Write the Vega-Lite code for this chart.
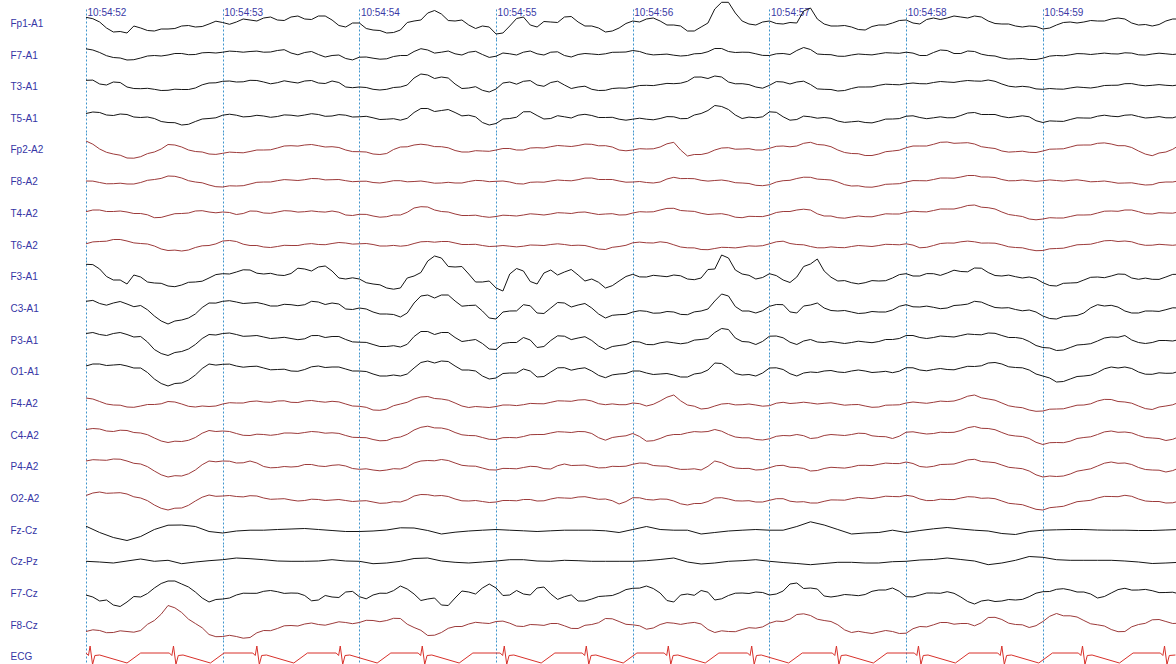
{
"$schema":"https://vega.github.io/schema/vega-lite/v6.json",
"padding":{"left":10,"top":0,"right":0,"bottom":0},
"background":"white",
"bounds":"flush",
"spacing":0,
"data":{"values":[
{"t":0,"a":5.7,"b":5.7,"c":5.7,"d":4,"e":8,"f":0,"g":1.3,"h":0.7,"i":11.7,"j":6.7,"k":6,"l":5,"m":5,"n":5,"o":5,"p":2.5,"q":3.3,"r":-0.3,"s":-2,"t2":-7},
{"t":0.1,"a":1,"b":2,"c":2,"d":5,"e":0,"f":-1.5,"g":3,"h":3,"i":7,"j":4.5,"k":5,"l":7,"m":1.5,"n":5.5,"o":6,"p":6,"q":-3,"r":-1,"s":-8,"t2":-6},
{"t":0.2,"a":-9,"b":-3,"c":4,"d":2,"e":-5,"f":-2.7,"g":1.5,"h":5,"i":-4,"j":5,"k":6,"l":6,"m":-2,"n":3,"o":7,"p":5,"q":-8,"r":-2,"s":-12,"t2":-8},
{"t":0.3,"a":-10,"b":-5.5,"c":-1,"d":3,"e":-9,"f":-3,"g":1,"h":3.5,"i":-8,"j":4,"k":5,"l":5,"m":-4,"n":4,"o":5,"p":4,"q":-11,"r":0,"s":-9,"t2":-7},
{"t":0.4,"a":-5,"b":-3.5,"c":-2.7,"d":0,"e":-7.7,"f":-1.5,"g":-0.5,"h":1,"i":-1,"j":2.5,"k":3,"l":3,"m":-3,"n":1.5,"o":2,"p":0,"q":-7,"r":2,"s":-4,"t2":-6},
{"t":0.5,"a":-8,"b":-1,"c":-3.3,"d":-1,"e":-3,"f":1.5,"g":-4.7,"h":-1.5,"i":-7,"j":-8,"k":-10,"l":-8,"m":-1.5,"n":-3.5,"o":-5,"p":-7,"q":0,"r":-0.3,"s":5,"t2":4},
{"t":0.6,"a":-6,"b":-0.5,"c":-4.3,"d":-5,"e":4.5,"f":5,"g":-2.5,"h":-6,"i":-10,"j":-16,"k":-16,"l":-15,"m":1.5,"n":-8,"o":-11,"p":-12,"q":4.3,"r":0.7,"s":12,"t2":19},
{"t":0.7,"a":-3,"b":1,"c":-3.5,"d":-7.5,"e":2,"f":3,"g":-0.5,"h":-6.5,"i":-9,"j":-12,"k":-12,"l":-12,"m":-1,"n":-7,"o":-10,"p":-10,"q":4.5,"r":-2.7,"s":9,"t2":12},
{"t":0.8,"a":-4,"b":0,"c":-2,"d":-4,"e":-2.5,"f":-1,"g":2,"h":-3,"i":-6,"j":-6,"k":-5,"l":-4,"m":-4,"n":-3,"o":-4,"p":-3,"q":3,"r":-1,"s":1,"t2":1},
{"t":0.9,"a":-1,"b":2,"c":3,"d":-1,"e":-5,"f":-4,"g":1,"h":-1,"i":-2,"j":5,"k":5,"l":7,"m":-3.5,"n":4,"o":5,"p":3,"q":-2,"r":0.3,"s":-9,"t2":-10},
{"t":1.0,"a":0.5,"b":2.3,"c":4.7,"d":2.3,"e":-4.3,"f":-6,"g":1,"h":3.5,"i":2.3,"j":6.7,"k":6,"l":6.7,"m":-1,"n":3.5,"o":5,"p":2,"q":-3.5,"r":1.3,"s":-6,"t2":-12},
{"t":1.1,"a":1,"b":3,"c":4,"d":2.3,"e":-3.5,"f":-5,"g":-1.5,"h":3,"i":4,"j":6,"k":5,"l":5,"m":0,"n":1,"o":3,"p":1.5,"q":-1.5,"r":3,"s":-2,"t2":-12},
{"t":1.2,"a":3,"b":3,"c":5.7,"d":1,"e":-2.5,"f":-3,"g":2,"h":-1,"i":6,"j":5,"k":3.5,"l":4.5,"m":1.5,"n":-1,"o":5,"p":2.3,"q":-0.7,"r":2.3,"s":-0.3,"t2":-13},
{"t":1.3,"a":5,"b":2.3,"c":4,"d":1.5,"e":-1,"f":-1,"g":0,"h":-2.5,"i":2,"j":4,"k":2.5,"l":3,"m":1,"n":0,"o":-0.5,"p":0,"q":-0.7,"r":1.3,"s":1.7,"t2":-6},
{"t":1.4,"a":3,"b":4,"c":3.3,"d":1,"e":1,"f":0.3,"g":1,"h":-2,"i":1,"j":2,"k":1.5,"l":1.5,"m":2,"n":0,"o":-1.5,"p":-1,"q":0,"r":0,"s":1.3,"t2":-4},
{"t":1.5,"a":6,"b":1.5,"c":4,"d":2.3,"e":3.3,"f":1,"g":2,"h":-1,"i":2.5,"j":3.3,"k":1,"l":0,"m":0.7,"n":1.5,"o":-1,"p":-2,"q":0.5,"r":-0.3,"s":0,"t2":-1},
{"t":1.6,"a":4,"b":2,"c":5,"d":2.5,"e":4,"f":1.3,"g":1.3,"h":0.3,"i":7,"j":3.3,"k":0.7,"l":1.5,"m":2,"n":2,"o":1.5,"p":-2.5,"q":1,"r":-0.3,"s":-2.5,"t2":0.5},
{"t":1.7,"a":7,"b":0,"c":3,"d":3,"e":3.3,"f":2.3,"g":1.3,"h":0,"i":9,"j":6,"k":4,"l":5,"m":1.5,"n":2.5,"o":0,"p":-1.5,"q":0,"r":0,"s":-7,"t2":0},
{"t":1.8,"a":3,"b":-1,"c":5,"d":1.5,"e":2.3,"f":1.3,"g":2,"h":1,"i":5,"j":5,"k":3,"l":4,"m":1.7,"n":1.7,"o":0.7,"p":-2,"q":-1,"r":1.3,"s":-4,"t2":1},
{"t":1.9,"a":-4,"b":-4,"c":-1,"d":2.3,"e":-1,"f":0.3,"g":-2,"h":1.5,"i":-3,"j":-1,"k":0,"l":2,"m":-1,"n":-1,"o":0,"p":-2.5,"q":-2,"r":0,"s":1,"t2":2},
{"t":2.0,"a":0,"b":-2.7,"c":-1,"d":0.7,"e":-2.7,"f":-0.3,"g":-1.3,"h":0.7,"i":-3,"j":0,"k":-2.7,"l":0,"m":-3.3,"n":-3,"o":-3.3,"p":-3,"q":-2,"r":-0.3,"s":-3.7,"t2":2},
{"t":2.1,"a":-7,"b":-3.7,"c":-3.3,"d":-0.3,"e":-5,"f":-1.5,"g":-3,"h":0,"i":-8,"j":-4,"k":-5,"l":-3,"m":-7,"n":-5,"o":-4,"p":-4,"q":-1.5,"r":-2.7,"s":-2,"t2":4},
{"t":2.2,"a":-10,"b":-4.3,"c":-3.3,"d":-1.7,"e":-4.5,"f":-1,"g":-3.7,"h":-1.5,"i":-12,"j":-6,"k":-7,"l":-5,"m":-6,"n":-6,"o":-4,"p":-5,"q":-0.5,"r":-2,"s":-0.3,"t2":4},
{"t":2.3,"a":-7,"b":-1,"c":-1,"d":-2.7,"e":2,"f":0.3,"g":-2,"h":-1.7,"i":-12,"j":-9,"k":-7.5,"l":-5,"m":-1,"n":-2.5,"o":-3,"p":-4,"q":1.7,"r":-0.3,"s":7,"t2":6},
{"t":2.4,"a":2,"b":3,"c":8,"d":5,"e":4,"f":-0.5,"g":5,"h":1,"i":0,"j":5,"k":3,"l":3,"m":4,"n":4.5,"o":3,"p":2,"q":1.5,"r":2.5,"s":-1,"t2":-3},
{"t":2.5,"a":10,"b":4.5,"c":11,"d":9,"e":4,"f":-1,"g":6,"h":3,"i":15,"j":13,"k":8,"l":10,"m":6.5,"n":8.3,"o":5.5,"p":3.3,"q":-1,"r":3,"s":-6,"t2":-11},
{"t":2.6,"a":9,"b":2.3,"c":9,"d":7,"e":2.3,"f":-2,"g":1.5,"h":3,"i":18,"j":13,"k":7,"l":10,"m":4,"n":6.5,"o":6.5,"p":2.5,"q":-4.5,"r":0,"s":-12,"t2":-8},
{"t":2.7,"a":2,"b":0.7,"c":2,"d":5,"e":-1.5,"f":-2,"g":-1,"h":1.5,"i":9,"j":7,"k":2,"l":5,"m":0,"n":2,"o":3,"p":-1,"q":-2.7,"r":-1.3,"s":-5,"t2":-2},
{"t":2.8,"a":-2,"b":2.3,"c":-2,"d":2.3,"e":-3,"f":-0.5,"g":-2.5,"h":0,"i":2,"j":2.5,"k":-1,"l":1,"m":-4.5,"n":-1,"o":0,"p":-3,"q":-1.5,"r":-2,"s":1,"t2":0.5},
{"t":2.9,"a":-3,"b":0,"c":-4.3,"d":-5,"e":-2,"f":0.3,"g":-3.5,"h":-1,"i":-6,"j":-3,"k":-4,"l":-5,"m":-4,"n":-3,"o":-2,"p":-3.5,"q":-0.7,"r":-1,"s":5,"t2":1.5},
{"t":3.0,"a":-11,"b":-1.7,"c":-3,"d":-6,"e":-1,"f":-0.3,"g":-3.5,"h":-1.7,"i":-12,"j":-11,"k":-10,"l":-7,"m":-3.5,"n":-5,"o":-4,"p":-4,"q":0,"r":0,"s":5,"t2":3},
{"t":3.1,"a":-3,"b":0.7,"c":4,"d":-1,"e":0.5,"f":-1,"g":-2.5,"h":-1.7,"i":2,"j":-3,"k":-3,"l":-2,"m":-2,"n":-3,"o":-2.5,"p":-2.5,"q":-0.7,"r":1.3,"s":-2,"t2":1.3},
{"t":3.2,"a":6,"b":2.3,"c":4.7,"d":5.7,"e":-1,"f":-3,"g":-2,"h":-1.7,"i":5,"j":3.3,"k":2,"l":2,"m":-1.7,"n":-2,"o":-1.5,"p":-1.5,"q":-1.3,"r":1.3,"s":-1,"t2":-2},
{"t":3.3,"a":-4,"b":0.7,"c":1,"d":2,"e":1.3,"f":-1,"g":-1.3,"h":-0.7,"i":-8,"j":-5,"k":-8,"l":-6,"m":-0.7,"n":0,"o":-0.7,"p":-3,"q":-2,"r":0,"s":5,"t2":-0.3},
{"t":3.4,"a":1,"b":2.3,"c":3.5,"d":-1,"e":2.3,"f":0,"g":-1,"h":0,"i":6,"j":0,"k":-1,"l":-1,"m":0.7,"n":1.5,"o":-3,"p":-1,"q":-1.3,"r":-0.3,"s":-1,"t2":1},
{"t":3.5,"a":6,"b":-1,"c":1,"d":0.7,"e":3,"f":0.5,"g":0,"h":0,"i":4,"j":5,"k":3.3,"l":3.3,"m":2,"n":2.5,"o":2,"p":0,"q":-0.7,"r":0.7,"s":-3.7,"t2":-1.3},
{"t":3.6,"a":1,"b":0,"c":-1,"d":2.3,"e":3.5,"f":1.3,"g":0.7,"h":-0.7,"i":1,"j":3,"k":1.5,"l":2.3,"m":3,"n":3,"o":0.7,"p":1,"q":-0.7,"r":0.3,"s":-8,"t2":-4},
{"t":3.7,"a":-3,"b":0.5,"c":-3.3,"d":2,"e":4.7,"f":3,"g":-0.3,"h":-2.7,"i":-3,"j":0,"k":-1,"l":0,"m":2,"n":1,"o":-0.5,"p":0,"q":-0.7,"r":-0.3,"s":-6,"t2":0},
{"t":3.8,"a":-9,"b":0.7,"c":-4.3,"d":0,"e":3.3,"f":1.5,"g":-1,"h":-5,"i":-12,"j":-10,"k":-10,"l":-6.7,"m":-1.7,"n":-5.7,"o":-1.7,"p":-1,"q":-1.3,"r":-0.3,"s":-3,"t2":6},
{"t":3.9,"a":-5,"b":2.3,"c":-2,"d":-1.7,"e":-1,"f":0,"g":-2,"h":-2,"i":-5,"j":-6.7,"k":-6,"l":-3,"m":-1.7,"n":-2,"o":-0.5,"p":-6,"q":-3,"r":-0.3,"s":0,"t2":3},
{"t":4.0,"a":2,"b":4,"c":-1,"d":-1.7,"e":-1,"f":-1,"g":0,"h":1.7,"i":1.7,"j":-4,"k":-2,"l":0,"m":0,"n":1,"o":1.7,"p":0.3,"q":0,"r":-0.3,"s":4.7,"t2":-0.3},
{"t":4.1,"a":4,"b":0.7,"c":0.7,"d":-1.7,"e":0,"f":-1.5,"g":1,"h":1.7,"i":-1,"j":-3.3,"k":-5,"l":-2,"m":-3,"n":-6.7,"o":2.7,"p":-1.5,"q":3,"r":0.3,"s":7,"t2":-4.7},
{"t":4.2,"a":2,"b":0,"c":1.5,"d":-1,"e":2,"f":-1,"g":3,"h":2.7,"i":0,"j":-5,"k":-3.3,"l":-3,"m":2,"n":-4,"o":0,"p":-1,"q":0,"r":1.5,"s":0,"t2":0},
{"t":4.3,"a":-2,"b":-0.7,"c":2.3,"d":0.7,"e":6.7,"f":3.7,"g":4.7,"h":-0.3,"i":1,"j":-4,"k":-3.3,"l":-4,"m":8,"n":0,"o":-2,"p":-3,"q":-0.7,"r":3,"s":-9,"t2":1.3},
{"t":4.4,"a":-8,"b":-1,"c":4.7,"d":-1,"e":-7,"f":2.5,"g":2,"h":-3.3,"i":-3,"j":-6.7,"k":-3.3,"l":-6,"m":-2,"n":1.7,"o":-3.3,"p":-7,"q":-0.7,"r":-1,"s":-1,"t2":1.3},
{"t":4.5,"a":-4,"b":1,"c":9,"d":4,"e":-5.5,"f":0.7,"g":-0.3,"h":-5,"i":-2,"j":-3,"k":0,"l":-2,"m":-6,"n":2.5,"o":-4,"p":-5.5,"q":-4.5,"r":-3,"s":2.5,"t2":0.5},
{"t":4.6,"a":14,"b":6,"c":10,"d":12,"e":-1,"f":0.5,"g":-1,"h":-4,"i":7,"j":7,"k":7,"l":8,"m":-3,"n":5,"o":5,"p":0,"q":-3,"r":-2,"s":-7,"t2":-8},
{"t":4.7,"a":20.7,"b":3,"c":4,"d":8,"e":1.3,"f":0,"g":-2,"h":-3,"i":18,"j":12,"k":10,"l":3,"m":-0.5,"n":0,"o":0,"p":-1,"q":-1.5,"r":-0.3,"s":-2.5,"t2":-7},
{"t":4.8,"a":2,"b":2.3,"c":2.3,"d":-1,"e":0,"f":-2,"g":-4.7,"h":-2.5,"i":2,"j":-3,"k":-2,"l":-4,"m":-1.7,"n":-3.3,"o":-2.5,"p":-3,"q":-0.7,"r":0.3,"s":0,"t2":-5},
{"t":4.9,"a":-2,"b":0.7,"c":-1,"d":-0.3,"e":-1,"f":-4.3,"g":-3.5,"h":-1.7,"i":-3,"j":-5,"k":-5,"l":-5,"m":-2,"n":-5,"o":-4,"p":-4,"q":0,"r":1.3,"s":1,"t2":-3.7},
{"t":5.0,"a":2,"b":-1,"c":0.7,"d":5.7,"e":0.7,"f":-3.7,"g":-2,"h":0.7,"i":2.3,"j":1.7,"k":3.3,"l":3,"m":-2.7,"n":-4.3,"o":-1.7,"p":-2.3,"q":-0.7,"r":-0.3,"s":-2,"t2":1.3},
{"t":5.1,"a":-1,"b":1,"c":4,"d":0.7,"e":3,"f":0.3,"g":1.5,"h":3.3,"i":-4,"j":3.3,"k":1.7,"l":1.5,"m":0.7,"n":-1,"o":0.7,"p":-0.7,"q":-0.7,"r":-1.5,"s":2,"t2":3},
{"t":5.2,"a":0,"b":4,"c":4,"d":-2,"e":3,"f":2.5,"g":3,"h":0,"i":-1,"j":-5,"k":-5,"l":-5,"m":0,"n":0,"o":-1.5,"p":-4,"q":3,"r":-2.5,"s":10,"t2":10},
{"t":5.3,"a":15,"b":5,"c":1.5,"d":0.7,"e":6.7,"f":3.7,"g":3,"h":-2,"i":12,"j":3,"k":0,"l":-1,"m":0,"n":-4,"o":-5,"p":-5,"q":7.7,"r":-3.7,"s":5,"t2":9},
{"t":5.4,"a":-1,"b":0,"c":-3.3,"d":0,"e":4,"f":1.5,"g":-3,"h":-3.3,"i":5,"j":0,"k":-3,"l":0,"m":-0.3,"n":-1,"o":-2.5,"p":-3.3,"q":4.5,"r":-2.5,"s":-3,"t2":4},
{"t":5.5,"a":-3,"b":-1.7,"c":-5,"d":-3.5,"e":-1,"f":-1,"g":-4.7,"h":-3,"i":-5,"j":-3,"k":-3,"l":-1,"m":-1,"n":-0.5,"o":-1.7,"p":-2,"q":0,"r":-1.3,"s":-3,"t2":-0.3},
{"t":5.6,"a":-4,"b":-0.5,"c":-2.5,"d":-4.3,"e":-4.5,"f":-5,"g":-4,"h":-2,"i":-6.7,"j":-4,"k":-3,"l":0,"m":-1.7,"n":0,"o":-1,"p":-0.7,"q":-4.5,"r":-1.3,"s":-2,"t2":-8},
{"t":5.7,"a":-7,"b":0,"c":-1,"d":-5,"e":-6.5,"f":-6,"g":-3.7,"h":-1.5,"i":-6.7,"j":-5,"k":-2.5,"l":0,"m":-3,"n":1,"o":0.7,"p":0,"q":-3.5,"r":-2,"s":-1.5,"t2":-8},
{"t":5.8,"a":-2,"b":0.7,"c":0.7,"d":-3.7,"e":-5,"f":-5,"g":-2.3,"h":-1,"i":-5,"j":-4,"k":-2,"l":-1,"m":-4,"n":-2,"o":1.7,"p":0.5,"q":-3,"r":-2,"s":3,"t2":-7.5},
{"t":5.9,"a":0,"b":1.5,"c":1.5,"d":-1.5,"e":-2,"f":-3,"g":-1,"h":0,"i":-2,"j":-2,"k":0,"l":-1.7,"m":-2,"n":-4,"o":2.5,"p":1.5,"q":-0.7,"r":-0.7,"s":5,"t2":-7},
{"t":6.0,"a":3,"b":2.3,"c":2.3,"d":1.3,"e":1.3,"f":-1,"g":0.7,"h":0.7,"i":2.3,"j":3.3,"k":4,"l":3.3,"m":0,"n":2.3,"o":4,"p":2.7,"q":-3,"r":-0.3,"s":-3.7,"t2":-8.7},
{"t":6.1,"a":-1,"b":-1,"c":2.3,"d":0,"e":3,"f":0.3,"g":1.3,"h":-3.3,"i":0,"j":1,"k":2,"l":1,"m":0.3,"n":1.5,"o":-0.5,"p":-1,"q":-1,"r":1,"s":-2,"t2":-2},
{"t":6.2,"a":5,"b":2,"c":3.5,"d":-0.3,"e":4.7,"f":1.5,"g":2.5,"h":-1,"i":2.3,"j":0.7,"k":2,"l":1.5,"m":0.7,"n":1,"o":-0.3,"p":-2.5,"q":0.7,"r":1.5,"s":0,"t2":-0.3},
{"t":6.3,"a":5,"b":4,"c":4,"d":-0.3,"e":7,"f":3,"g":4,"h":1.5,"i":3,"j":0,"k":3,"l":1.5,"m":1.5,"n":2,"o":1.7,"p":-1.5,"q":2,"r":3,"s":1.3,"t2":2},
{"t":6.4,"a":6,"b":1,"c":4.7,"d":2,"e":6,"f":4,"g":5.5,"h":2.7,"i":4.5,"j":3,"k":4,"l":3,"m":4,"n":4,"o":4,"p":0,"q":0.5,"r":1.5,"s":-4,"t2":1},
{"t":6.5,"a":7,"b":3,"c":5,"d":5,"e":5,"f":5.5,"g":8,"h":2.7,"i":8,"j":6.7,"k":5,"l":4.5,"m":8,"n":8,"o":6.7,"p":1,"q":-0.7,"r":0,"s":-11,"t2":-1.3},
{"t":6.6,"a":2,"b":-1,"c":6,"d":3,"e":1.3,"f":4,"g":5.3,"h":1.5,"i":3.5,"j":3,"k":6.5,"l":8,"m":4,"n":6,"o":4,"p":0,"q":-1.5,"r":-3.7,"s":-7,"t2":7},
{"t":6.7,"a":-1,"b":-3.5,"c":2,"d":1,"e":-2,"f":1.5,"g":1,"h":-0.3,"i":0,"j":0,"k":4,"l":7,"m":0,"n":2,"o":1,"p":-3,"q":-4,"r":-2,"s":-8,"t2":5},
{"t":6.8,"a":-3,"b":-4.3,"c":-1,"d":0.7,"e":-2.7,"f":0.3,"g":-2.5,"h":-3,"i":-0.7,"j":-1.5,"k":2,"l":3.5,"m":-4,"n":-1.5,"o":-2,"p":-6,"q":-5,"r":0.7,"s":-7,"t2":0},
{"t":6.9,"a":-3,"b":-5,"c":-1,"d":0.7,"e":-3.3,"f":0.3,"g":-6,"h":-5,"i":-1,"j":-2,"k":-2,"l":1,"m":-7,"n":-4,"o":-5,"p":-9,"q":-2,"r":4.5,"s":-3.7,"t2":-3},
{"t":7.0,"a":-6,"b":-3.7,"c":-3.3,"d":-5,"e":-2,"f":0.3,"g":-6,"h":-6,"i":-6.7,"j":-8,"k":-8,"l":-5,"m":-8,"n":-10,"o":-11,"p":-12,"q":-0.7,"r":3.7,"s":1.3,"t2":3},
{"t":7.1,"a":-2,"b":-1,"c":-3,"d":-3.7,"e":0,"f":0.5,"g":-5,"h":-4,"i":-10,"j":-11,"k":-11,"l":-11,"m":-6,"n":-8,"o":-10.5,"p":-9,"q":-0.3,"r":1.3,"s":3.7,"t2":11},
{"t":7.2,"a":1,"b":-0.3,"c":-2,"d":-2,"e":2,"f":0.7,"g":-3.5,"h":-2,"i":-7,"j":-8,"k":-8,"l":-8,"m":-4,"n":-6.7,"o":-8,"p":-6,"q":0,"r":0.7,"s":3,"t2":8.7},
{"t":7.3,"a":1,"b":0.7,"c":-1.5,"d":-0.5,"e":4,"f":0.3,"g":-2,"h":0,"i":-4,"j":-5,"k":-5,"l":-5,"m":-2,"n":-3,"o":-4,"p":-3,"q":0,"r":0.7,"s":1,"t2":4},
{"t":7.4,"a":2,"b":0.7,"c":-1,"d":1.3,"e":5.7,"f":-0.5,"g":0,"h":2,"i":-1,"j":3.3,"k":-1.5,"l":-1.5,"m":2,"n":0,"o":0,"p":0,"q":-0.5,"r":0.7,"s":-5,"t2":-0.3},
{"t":7.5,"a":4,"b":0.7,"c":0.7,"d":1.3,"e":5,"f":-1,"g":2,"h":4,"i":0,"j":2.7,"k":2.5,"l":4,"m":3.5,"n":3.5,"o":4,"p":1.5,"q":-0.7,"r":0.7,"s":0,"t2":-5},
{"t":7.6,"a":4,"b":1.7,"c":2.3,"d":2.3,"e":3.3,"f":-2,"g":3,"h":3.5,"i":1.7,"j":-3,"k":4,"l":4,"m":1,"n":2.5,"o":3,"p":2.7,"q":-0.7,"r":0,"s":4.7,"t2":-7},
{"t":7.7,"a":-2,"b":-0.3,"c":1,"d":1,"e":-2,"f":-3,"g":1.3,"h":0.5,"i":-3.3,"j":-5,"k":-3,"l":-1,"m":-3,"n":-1,"o":-1.5,"p":-1,"q":-1,"r":-1,"s":3,"t2":0},
{"t":7.8,"a":-3,"b":0.5,"c":0.7,"d":0,"e":-6.7,"f":-3.7,"g":-1,"h":-0.7,"i":-3.3,"j":-3,"k":-3,"l":-3.3,"m":-6.5,"n":-3.5,"o":-4,"p":-3.5,"q":-1,"r":-2.5,"s":2.3,"t2":4.7},
{"t":7.9,"a":2,"b":0.7,"c":0.7,"d":-0.3,"e":-3,"f":-1,"g":0,"h":-0.3,"i":-1,"j":-1.7,"k":-1,"l":-2.3,"m":-3,"n":-6,"o":-6,"p":-5,"q":-0.5,"r":-2,"s":0.5,"t2":3},
{"t":8.0,"a":4,"b":0.7,"c":1.3,"d":1.7,"e":4,"f":0.3,"g":1.3,"h":0,"i":1.7,"j":0,"k":0,"l":0,"m":1,"n":-2,"o":-1.7,"p":-3,"q":0,"r":-1.3,"s":-1,"t2":1.3},
{"t":0.05,"a":4.3,"b":4.5,"c":5.9,"d":5.5,"i":11.4,"j":7.6,"k":7,"l":7,"s":-4,"e":4.8,"f":-0.1,"g":3,"h":2.6,"m":4,"n":6,"o":6.3,"p":5,"t2":-5.3},
{"t":0.15,"a":-5,"b":-1.2,"c":1,"d":2.5,"i":-0.5,"j":2.8,"k":4,"l":5.5,"s":-7,"e":-3.3,"f":-2.8,"g":1.5,"h":3.3,"m":-1,"n":3.5,"o":5.7,"p":4.7,"t2":-8.2},
{"t":0.25,"a":-8.5,"b":-3.5,"c":3.5,"d":3.5,"i":-4,"j":6.5,"k":7,"l":6.5,"s":-13.5,"e":-6.2,"f":-2.2,"g":2,"h":5,"m":-2.2,"n":4.3,"o":6.8,"p":5.3,"t2":-6.3},
{"t":0.35,"a":-3,"b":-5.2,"c":-2.5,"d":0.5,"i":1,"j":1.3,"k":2.5,"l":3,"s":-3.5,"e":-9.2,"f":-3,"g":-0.5,"h":1.6,"m":-4.3,"n":2,"o":2.7,"p":1.2,"t2":-7.7},
{"t":0.45,"a":-7.5,"b":-1.5,"c":-2.3,"d":0.5,"i":-6,"j":-1.8,"k":-2.5,"l":-1.5,"s":-0.5,"e":-4.6,"f":0.7,"g":-1.8,"h":0.5,"m":-1.5,"n":-0.2,"o":-0.7,"p":-2.7,"t2":0.2},
{"t":0.55,"a":-6,"b":-1.5,"c":-4.5,"d":-4,"i":-7.3,"j":-13,"k":-14,"l":-12.5,"s":9.5,"e":0,"f":2.6,"g":-4.4,"h":-4.5,"m":-0.8,"n":-6.5,"o":-8.8,"p":-10.3,"t2":10.3},
{"t":0.65,"a":-5.5,"b":1,"c":-3.2,"d":-5.2,"i":-10.7,"j":-13,"k":-13,"l":-12.5,"s":12,"e":4,"f":4.7,"g":-0.7,"h":-5.6,"m":1,"n":-6.7,"o":-9.7,"p":-10.2,"t2":16.7},
{"t":0.75,"a":-2.5,"b":-0.2,"c":-3.5,"d":-6.8,"i":-6.3,"j":-10,"k":-9.5,"l":-9,"s":6,"e":-1,"f":0.3,"g":0,"h":-5.5,"m":-3.3,"n":-5.8,"o":-7.8,"p":-7.3,"t2":5.3},
{"t":0.85,"a":-3.5,"b":1.7,"c":1.2,"d":-1.5,"i":-5.2,"j":0.5,"k":1,"l":2.5,"s":-5,"e":-3,"f":-1.8,"g":2.3,"h":-1.3,"m":-3,"n":1.3,"o":1.3,"p":0.8,"t2":-3.3},
{"t":0.95,"a":1.8,"b":1.5,"c":3.2,"d":-0.3,"i":1.4,"j":4.9,"k":4.5,"l":5.9,"s":-6.5,"e":-5.4,"f":-5.7,"g":0.2,"h":0.6,"m":-3,"n":3,"o":4.2,"p":1.7,"t2":-12.2},
{"t":1.05,"a":-1.3,"b":3.4,"c":5,"d":3.3,"i":2,"j":7.3,"k":6.5,"l":6.9,"s":-5,"e":-3.1,"f":-4.8,"g":0.5,"h":4,"m":0.3,"n":3,"o":4.8,"p":2.5,"t2":-10.8},
{"t":1.15,"a":4,"b":2.3,"c":4.2,"d":0.6,"i":6.2,"j":4.5,"k":3.2,"l":3.8,"s":-0.2,"e":-3.8,"f":-4.7,"g":-0.5,"h":0.3,"m":0,"n":-0.8,"o":3.2,"p":1.1,"t2":-13.7},
{"t":1.25,"a":2,"b":3.4,"c":5.5,"d":2.2,"i":2.8,"j":5.5,"k":4,"l":4.8,"s":-0.3,"e":-1,"f":-1.3,"g":1.8,"h":-1,"m":2,"n":0.3,"o":3,"p":2,"t2":-8.3},
{"t":1.35,"a":6,"b":2.5,"c":2.2,"d":0.2,"i":2.7,"j":2,"k":1,"l":1.2,"s":2.5,"e":-0.8,"f":-1,"g":-0.3,"h":-3,"m":0.7,"n":-0.8,"o":-1.8,"p":-1.3,"t2":-6.2},
{"t":1.45,"a":2.5,"b":4.8,"c":5.2,"d":2.6,"i":0.5,"j":3.7,"k":2.2,"l":1.8,"s":-0.4,"e":3,"f":1.4,"g":2.3,"h":-0.8,"m":2.2,"n":1.5,"o":-0.5,"p":-0.7,"t2":-1.3},
{"t":1.55,"a":7,"b":-0.3,"c":3,"d":1.4,"i":7.8,"j":2.3,"k":-0.2,"l":-0.3,"s":-0.2,"e":2.9,"f":0.5,"g":0.9,"h":-1,"m":0.5,"n":1,"o":-0.5,"p":-3,"t2":-1.5},
{"t":1.65,"a":3.5,"b":3,"c":5.5,"d":3.8,"i":5,"j":6.7,"k":3.9,"l":4.2,"s":-7.8,"e":4.5,"f":2.5,"g":2.1,"h":0.9,"m":2.5,"n":3,"o":1.5,"p":-1.2,"t2":1.5},
{"t":1.75,"a":7,"b":-2.5,"c":2.5,"d":1.2,"i":10,"j":3.5,"k":2,"l":3.5,"s":-2.5,"e":2,"f":1.1,"g":0.9,"h":-0.2,"m":0.8,"n":1.3,"o":-0.5,"p":-2.5,"t2":-0.7},
{"t":1.85,"a":-2.5,"b":-0.5,"c":3.5,"d":2.9,"i":-2,"j":4,"k":3,"l":4,"s":-4.5,"e":1.5,"f":1.5,"g":0.8,"h":2,"m":1.1,"n":1.1,"o":1.2,"p":-1.5,"t2":2.7},
{"t":1.95,"a":0,"b":-5.4,"c":-1.7,"d":0.5,"i":-1.8,"j":-1.5,"k":-2.4,"l":0,"s":1.6,"e":-2.6,"f":-0.7,"g":-2.5,"h":0.4,"m":-3,"n":-2.8,"o":-2.5,"p":-3.5,"t2":0.8},
{"t":2.05,"a":-5.5,"b":-2.5,"c":-1.5,"d":1.2,"i":-6.7,"j":-1,"k":-2.9,"l":-0.5,"s":-5.8,"e":-3,"f":-0.2,"g":-1.4,"h":1,"m":-4.3,"n":-3.2,"o":-2.8,"p":-2.7,"t2":4.2},
{"t":2.15,"a":-7.5,"b":-4.7,"c":-4,"d":-2,"i":-8.8,"j":-6,"k":-7,"l":-5,"s":-0.2,"e":-5.5,"f":-2,"g":-4.2,"h":-1.5,"m":-7.3,"n":-6.3,"o":-4.8,"p":-5.3,"t2":2.8},
{"t":2.25,"a":-9.5,"b":-2,"c":-1.5,"d":-1.2,"i":-13.2,"j":-6.5,"k":-6.2,"l":-4,"s":2.4,"e":-0.5,"f":0.3,"g":-2,"h":-0.9,"m":-2.7,"n":-3.5,"o":-2.7,"p":-3.7,"t2":6.2},
{"t":2.35,"a":0.5,"b":-1,"c":1,"d":-0.8,"i":-2,"j":-5,"k":-4.8,"l":-3,"s":4,"e":2.2,"f":-0.8,"g":0.7,"h":-1,"m":0.7,"n":0.2,"o":-0.8,"p":-1.8,"t2":0.3},
{"t":2.45,"a":3,"b":5.8,"c":12,"d":9,"i":3.5,"j":12,"k":8,"l":8.5,"s":-7.5,"e":4.8,"f":0,"g":6.3,"h":2.7,"m":6,"n":7.2,"o":5,"p":3.5,"t2":-5.8},
{"t":2.55,"a":12.5,"b":1.4,"c":7.5,"d":6,"i":20,"j":10,"k":5,"l":8,"s":-5,"e":2.4,"f":-2.2,"g":3,"h":2.3,"m":4.5,"n":6.6,"o":5.2,"p":2.1,"t2":-10.7},
{"t":2.65,"a":2.5,"b":3.5,"c":8,"d":8,"i":9.5,"j":13,"k":7,"l":9.5,"s":-12.5,"e":1.2,"f":-1.3,"g":1,"h":3,"m":2.8,"n":5,"o":5.5,"p":1.5,"t2":-3.8},
{"t":2.75,"a":3,"b":-0.5,"c":-2.5,"d":1.6,"i":9.5,"j":1.8,"k":-2,"l":1,"s":2,"e":-3,"f":-2,"g":-2.5,"h":0,"m":-3,"n":-0.3,"o":0.7,"p":-2.8,"t2":-2},
{"t":2.85,"a":-5.5,"b":3.2,"c":-0.7,"d":0.6,"i":-6,"j":2.8,"k":0,"l":0,"s":-1,"e":-1.7,"f":0.6,"g":-2.2,"h":0.2,"m":-3.5,"n":-1.2,"o":-0.2,"p":-2.5,"t2":2.2},
{"t":2.95,"a":-4,"b":-2.9,"c":-6,"d":-7.5,"i":-5,"j":-10,"k":-9.5,"l":-8,"s":9,"e":-2.3,"f":-0.7,"g":-4.3,"h":-2,"m":-4.5,"n":-4.8,"o":-3.8,"p":-4.5,"t2":1},
{"t":3.05,"a":-10,"b":1.5,"c":3,"d":-1.5,"i":-15,"j":-4,"k":-4,"l":-2.5,"s":-2.5,"e":0.5,"f":0,"g":-2.2,"h":-1,"m":-2,"n":-3.2,"o":-2.4,"p":-2.5,"t2":3.4},
{"t":3.15,"a":4.5,"b":-0.5,"c":1.8,"d":0.3,"i":7.5,"j":-2.9,"k":-3,"l":-2,"s":2.5,"e":-1,"f":-2.7,"g":-3,"h":-2.4,"m":-2.6,"n":-3.3,"o":-2.8,"p":-2.8,"t2":-1.6},
{"t":3.25,"a":-2,"b":3.5,"c":5.4,"d":5.8,"i":-5.5,"j":2.2,"k":-0.5,"l":0,"s":-2,"e":1,"f":-1.3,"g":-0.8,"h":-0.5,"m":-0.4,"n":-0.2,"o":-0.3,"p":-1.5,"t2":0},
{"t":3.35,"a":1.5,"b":-0.5,"c":-0.3,"d":-1.5,"i":3,"j":-5.5,"k":-7,"l":-5.5,"s":6,"e":1,"f":-1.2,"g":-2,"h":-1,"m":-0.8,"n":0,"o":-2.6,"p":-2.8,"t2":-0.9},
{"t":3.45,"a":0.5,"b":2.7,"c":4.8,"d":1.8,"i":1,"j":5.5,"k":3.7,"l":3.2,"s":-6.4,"e":3.5,"f":1,"g":0.3,"h":0.7,"m":2.2,"n":2.8,"o":0.3,"p":0.3,"t2":1},
{"t":3.55,"a":6.5,"b":-2.5,"c":-2.5,"d":-0.5,"i":6.5,"j":1,"k":-0.1,"l":0.8,"s":-1.9,"e":2.5,"f":0.2,"g":-0.5,"h":-1,"m":1.7,"n":2,"o":0.5,"p":-0.3,"t2":-3.9},
{"t":3.65,"a":-3,"b":1,"c":-0.2,"d":3.2,"i":-5,"j":4.5,"k":2.8,"l":3.2,"s":-8,"e":4.9,"f":2.9,"g":1,"h":-1,"m":3.3,"n":2.8,"o":0.9,"p":1.3,"t2":-0.8},
{"t":3.75,"a":-5,"b":-0.1,"c":-4.5,"d":0,"i":-6.3,"j":-6,"k":-6.5,"l":-4.4,"s":-3.5,"e":3.2,"f":1.5,"g":-1.5,"h":-4.5,"m":-0.7,"n":-3.2,"o":-1.9,"p":-1.3,"t2":1.8},
{"t":3.85,"a":-8,"b":2.2,"c":-2.5,"d":0.2,"i":-9.7,"j":-7.3,"k":-7,"l":-3.9,"s":-2.5,"e":2,"f":1.5,"g":-0.7,"h":-2.8,"m":-0.9,"n":-3,"o":-0.3,"p":-2.7,"t2":5.7},
{"t":3.95,"a":-0.5,"b":2.5,"c":-2.2,"d":-2.7,"i":-0.5,"j":-6.4,"k":-5,"l":-2.5,"s":3.4,"e":-1.8,"f":-1.2,"g":-1.8,"h":-0.8,"m":-1.7,"n":-1.3,"o":-0.2,"p":-3.6,"t2":0.2},
{"t":4.05,"a":1,"b":3,"c":0.5,"d":-0.7,"i":-0.9,"j":-2.7,"k":-2.5,"l":0,"s":4.9,"e":0.3,"f":-0.5,"g":1.3,"h":2.4,"m":-0.7,"n":-2,"o":3,"p":0.2,"t2":-1.3},
{"t":4.15,"a":5,"b":-0.4,"c":0.4,"d":-2.3,"i":0.7,"j":-5.2,"k":-5.2,"l":-3.5,"s":4.5,"e":0.2,"f":-2,"g":1.2,"h":1.5,"m":-1.3,"n":-6.2,"o":0.5,"p":-2,"t2":-3.5},
{"t":4.25,"a":-2,"b":0.4,"c":2.6,"d":0.9,"i":-0.7,"j":-3.5,"k":-2.3,"l":-2.5,"s":-7.5,"e":5.2,"f":2,"g":4.6,"h":1.9,"m":5.8,"n":-1.2,"o":-0.2,"p":-1.2,"t2":1.9},
{"t":4.35,"a":-3,"b":-1.5,"c":2.8,"d":-1.2,"i":0.2,"j":-6.4,"k":-4.3,"l":-6,"s":-2,"e":-1,"f":2.4,"g":2.5,"h":-2.5,"m":2.2,"n":0,"o":-3.4,"p":-5.8,"t2":0.1},
{"t":4.45,"a":-8,"b":0.7,"c":8.9,"d":2.5,"i":-3.7,"j":-3.9,"k":-0.6,"l":-3,"s":-2.3,"e":-5.5,"f":2.3,"g":1.6,"h":-3.4,"m":-3.2,"n":2.9,"o":-2.8,"p":-5.5,"t2":2.1},
{"t":4.55,"a":0,"b":2.8,"c":7.5,"d":7,"i":6.5,"j":-1,"k":1,"l":1,"s":0.8,"e":-4,"f":-0.1,"g":-1.5,"h":-5.2,"m":-5.3,"n":3,"o":-0.3,"p":-3.5,"t2":-5},
{"t":4.65,"a":20.7,"b":6,"c":9,"d":11,"i":21,"j":14,"k":11,"l":7.5,"s":-5.8,"e":1,"f":1,"g":-0.7,"h":-2.8,"m":-1,"n":3.3,"o":3.3,"p":0.3,"t2":-6.3},
{"t":4.75,"a":10,"b":2,"c":2.2,"d":2.5,"i":6,"j":1.5,"k":1.5,"l":-2.5,"s":-0.2,"e":-0.2,"f":-1.7,"g":-4.2,"h":-3.4,"m":-1.9,"n":-2.5,"o":-2,"p":-2.8,"t2":-7.2},
{"t":4.85,"a":-1,"b":2.2,"c":1.4,"d":0.4,"i":0.7,"j":-3,"k":-2.5,"l":-3.5,"s":-0.5,"e":0.3,"f":-2.5,"g":-3.3,"h":-1.4,"m":-1,"n":-3.3,"o":-2.4,"p":-2.7,"t2":-3.2},
{"t":4.95,"a":1,"b":-0.9,"c":-2.2,"d":0.7,"i":-1.5,"j":-2.7,"k":-1.9,"l":-2,"s":0.5,"e":-1,"f":-4.7,"g":-3.6,"h":-1.2,"m":-3.2,"n":-5.5,"o":-3.6,"p":-4,"t2":-2.4},
{"t":5.05,"a":-0.5,"b":0.7,"c":4.4,"d":5.2,"i":0.4,"j":3.5,"k":3.5,"l":3.2,"s":-1,"e":2.7,"f":-1,"g":0.5,"h":2.7,"m":-0.2,"n":-1.8,"o":0.3,"p":-0.7,"t2":3.4},
{"t":5.15,"a":0.5,"b":0,"c":2,"d":-2.7,"i":-6.5,"j":-3.9,"k":-2.7,"l":-2.7,"s":9,"e":2.2,"f":0.7,"g":1.5,"h":1,"m":-0.5,"n":-1.3,"o":-1.2,"p":-3.2,"t2":5.3},
{"t":5.25,"a":12,"b":7,"c":4.8,"d":1.4,"i":9.5,"j":2,"k":-1.5,"l":-2,"s":4.5,"e":5.7,"f":3.8,"g":3.8,"h":-0.3,"m":0.8,"n":-1.2,"o":-2.4,"p":-3.7,"t2":10.7},
{"t":5.35,"a":4,"b":0.5,"c":-2.9,"d":-0.7,"i":17,"j":5,"k":-2.5,"l":-1.5,"s":4,"e":4.5,"f":1.9,"g":-0.8,"h":-3.3,"m":-1,"n":-3.3,"o":-4.5,"p":-5,"t2":5.3},
{"t":5.45,"a":-3,"b":-0.2,"c":-3.5,"d":-0.8,"i":-1.2,"j":-2.5,"k":-2,"l":0.5,"s":-4,"e":2.3,"f":1,"g":-3,"h":-2.4,"m":0.2,"n":0,"o":-1.3,"p":-1.9,"t2":3},
{"t":5.55,"a":-2.5,"b":-1.8,"c":-4.5,"d":-4.9,"i":-4.6,"j":-2.5,"k":-4,"l":-1.5,"s":-1.5,"e":-3.5,"f":-3.7,"g":-5.2,"h":-3.2,"m":-2.2,"n":-1,"o":-2.1,"p":-2.2,"t2":-5.4},
{"t":5.65,"a":-6.5,"b":0.5,"c":-1,"d":-3.7,"i":-7.9,"j":-5.5,"k":-1.7,"l":1,"s":-2.7,"e":-4.7,"f":-4.8,"g":-3,"h":-1,"m":-1.5,"n":1.3,"o":0.6,"p":0.5,"t2":-6.8},
{"t":5.75,"a":-3.5,"b":-0.4,"c":-0.9,"d":-5.4,"i":-4.6,"j":-3.5,"k":-3.2,"l":-1.5,"s":1.7,"e":-6.5,"f":-6.2,"g":-3.8,"h":-2,"m":-4.3,"n":-1.3,"o":0.4,"p":-0.6,"t2":-9},
{"t":5.85,"a":-2,"b":1.8,"c":1.8,"d":-1.6,"i":-4.7,"j":-4,"k":0,"l":-0.3,"s":3,"e":-2.7,"f":-3.3,"g":-0.8,"h":0.2,"m":-2.2,"n":-2.2,"o":2.9,"p":1.8,"t2":-6},
{"t":5.95,"a":2.5,"b":1.2,"c":1.2,"d":-1.1,"i":1.4,"j":1.7,"k":1,"l":-0.2,"s":1.7,"e":-1.2,"f":-2.7,"g":-1,"h":-0.3,"m":-1.8,"n":-1.7,"o":2.4,"p":1.3,"t2":-9},
{"t":6.05,"a":0,"b":1.4,"c":3,"d":1.7,"i":0,"j":1.2,"k":4,"l":3.2,"s":-3.9,"e":3,"f":0.4,"g":1.8,"h":-0.6,"m":1,"n":2.7,"o":2.5,"p":1.7,"t2":-4.2},
{"t":6.15,"a":3.5,"b":-1,"c":2.2,"d":-1.2,"i":2.4,"j":1.9,"k":1,"l":0.2,"s":0,"e":3,"f":0.2,"g":1.1,"h":-2.8,"m":-0.3,"n":0.5,"o":-1.2,"p":-2.6,"t2":-2.4},
{"t":6.25,"a":3.5,"b":4.5,"c":4.5,"d":0.7,"i":0.6,"j":-0.7,"k":3.5,"l":2.5,"s":-0.3,"e":6.7,"f":3,"g":4,"h":1,"m":1.9,"n":2.3,"o":1.5,"p":-1.2,"t2":2},
{"t":6.35,"a":7,"b":1,"c":3.6,"d":-0.2,"i":5.8,"j":2.5,"k":2.5,"l":1.2,"s":-0.3,"e":5.7,"f":2.8,"g":4,"h":1.4,"m":2,"n":2.2,"o":2,"p":-1.6,"t2":0.3},
{"t":6.45,"a":5,"b":3.5,"c":5.5,"d":4.5,"i":4.2,"j":3.9,"k":5.5,"l":4.7,"s":-8.5,"e":6.3,"f":5.5,"g":7.5,"h":3.4,"m":6.8,"n":6.8,"o":6.1,"p":1.3,"t2":1},
{"t":6.55,"a":6,"b":0.3,"c":4.8,"d":3,"i":7.8,"j":5.9,"k":4.7,"l":5.2,"s":-8,"e":2.3,"f":4,"g":5.8,"h":1.4,"m":5.2,"n":6.2,"o":4.5,"p":-0.3,"t2":1.7},
{"t":6.65,"a":-0.5,"b":-1.5,"c":4.7,"d":3,"i":0.5,"j":0.5,"k":6.2,"l":8.5,"s":-8.5,"e":0.5,"f":3.5,"g":4,"h":1.3,"m":2.8,"n":4.8,"o":3.3,"p":-0.7,"t2":7.2},
{"t":6.75,"a":-1,"b":-4.6,"c":-0.2,"d":-0.2,"i":0.9,"j":0.3,"k":2,"l":4.2,"s":-6.5,"e":-3.1,"f":0.2,"g":-1.5,"h":-2.3,"m":-2.8,"n":-0.5,"o":-1.3,"p":-5.3,"t2":1.3},
{"t":6.85,"a":-4,"b":-4,"c":-0.3,"d":1.7,"i":-2,"j":-2.8,"k":1,"l":3.2,"s":-6.4,"e":-2.2,"f":1,"g":-3.5,"h":-3.3,"m":-4.7,"n":-2,"o":-2.7,"p":-6.7,"t2":-0.3},
{"t":6.95,"a":-3.5,"b":-5,"c":-2.9,"d":-3.2,"i":-2.6,"j":-4,"k":-6,"l":-3,"s":-0.2,"e":-3.5,"f":-0.4,"g":-6.8,"h":-6.2,"m":-8.3,"n":-7.8,"o":-8.8,"p":-11.3,"t2":-1.2},
{"t":7.05,"a":-5,"b":-1.6,"c":-2.5,"d":-3.4,"i":-9.5,"j":-10.5,"k":-8.5,"l":-7,"s":1.5,"e":-0.2,"f":1.1,"g":-4.7,"h":-4.3,"m":-6.2,"n":-8.2,"o":-10,"p":-9.7,"t2":8.2},
{"t":7.15,"a":0.5,"b":-1.3,"c":-3.2,"d":-3.9,"i":-7.3,"j":-8.5,"k":-10.5,"l":-10.5,"s":4.3,"e":0.2,"f":-0.1,"g":-5,"h":-3.7,"m":-5.8,"n":-8.2,"o":-10,"p":-8.3,"t2":8.7},
{"t":7.25,"a":0,"b":0.9,"c":-1,"d":-0.3,"i":-6.7,"j":-7.5,"k":-5.5,"l":-5.5,"s":1,"e":3.8,"f":1.2,"g":-2,"h":-0.3,"m":-2.2,"n":-4,"o":-5.2,"p":-3.7,"t2":7.5},
{"t":7.35,"a":2.5,"b":0,"c":-2,"d":-0.6,"i":-1.3,"j":0.2,"k":-4.2,"l":-4.2,"s":-1,"e":4,"f":-0.8,"g":-1.8,"h":0.3,"m":-0.8,"n":-2.3,"o":-2.8,"p":-2.3,"t2":0.7},
{"t":7.45,"a":2,"b":1.4,"c":0.5,"d":2.3,"i":-1.7,"j":2,"k":1.5,"l":2.2,"s":-3.5,"e":6.1,"f":0,"g":1.8,"h":3.7,"m":3.6,"n":2.6,"o":2.8,"p":1.6,"t2":-1.5},
{"t":7.55,"a":5,"b":0.5,"c":0.8,"d":0.8,"i":2,"j":0.9,"k":2.2,"l":3,"s":3.4,"e":3.3,"f":-2.2,"g":1.7,"h":3,"m":1.5,"n":2.2,"o":2.7,"p":1.3,"t2":-7.2},
{"t":7.65,"a":0,"b":1.4,"c":2.4,"d":2.7,"i":-2,"j":-5,"k":-0.5,"l":2.5,"s":2.9,"e":1.5,"f":-1.8,"g":3,"h":2.7,"m":-0.2,"n":1.6,"o":1.5,"p":1.7,"t2":-2.3},
{"t":7.75,"a":-1.5,"b":-0.6,"c":0.2,"d":-0.5,"i":-2.1,"j":-3,"k":-4,"l":-3.2,"s":3.6,"e":-5.1,"f":-4,"g":-0.7,"h":-0.8,"m":-5.6,"n":-3,"o":-3.5,"p":-3,"t2":1.2},
{"t":7.85,"a":-1.5,"b":1.3,"c":1.4,"d":0.9,"i":-3.4,"j":-3.4,"k":-1,"l":-1.8,"s":0.4,"e":-4,"f":-1.6,"g":0.3,"h":0.2,"m":-4,"n":-4,"o":-4.2,"p":-3.5,"t2":5},
{"t":7.95,"a":4,"b":0,"c":0.3,"d":-0.3,"i":1.6,"j":0.2,"k":-1.5,"l":-2.2,"s":0.8,"e":-0.3,"f":-1,"g":-0.2,"h":-0.8,"m":-1.8,"n":-4.8,"o":-4.6,"p":-4.8,"t2":1},
{"t":0,"u":3},{"t":0.018,"u":0.5},{"t":0.03,"u":10},{"t":0.048,"u":-8.5},{"t":0.065,"u":0.5},{"t":0.1,"u":1},{"t":0.3,"u":-7},{"t":0.4,"u":3},
{"t":0.61,"u":3},{"t":0.628,"u":0.5},{"t":0.64,"u":10},{"t":0.658,"u":-8.5},{"t":0.675,"u":0.5},{"t":0.71,"u":1},{"t":0.91,"u":-7},{"t":1.01,"u":3},
{"t":1.22,"u":3},{"t":1.238,"u":0.5},{"t":1.25,"u":10},{"t":1.268,"u":-8.5},{"t":1.285,"u":0.5},{"t":1.32,"u":1},{"t":1.52,"u":-7},{"t":1.62,"u":3},
{"t":1.83,"u":3},{"t":1.848,"u":0.5},{"t":1.86,"u":10},{"t":1.878,"u":-8.5},{"t":1.895,"u":0.5},{"t":1.93,"u":1},{"t":2.13,"u":-7},{"t":2.23,"u":3},
{"t":2.43,"u":3},{"t":2.448,"u":0.5},{"t":2.46,"u":10},{"t":2.478,"u":-8.5},{"t":2.495,"u":0.5},{"t":2.53,"u":1},{"t":2.73,"u":-7},{"t":2.83,"u":3},
{"t":3.03,"u":3},{"t":3.048,"u":0.5},{"t":3.06,"u":10},{"t":3.078,"u":-8.5},{"t":3.095,"u":0.5},{"t":3.13,"u":1},{"t":3.33,"u":-7},{"t":3.43,"u":3},
{"t":3.63,"u":3},{"t":3.648,"u":0.5},{"t":3.66,"u":10},{"t":3.678,"u":-8.5},{"t":3.695,"u":0.5},{"t":3.73,"u":1},{"t":3.93,"u":-7},{"t":4.03,"u":3},
{"t":4.23,"u":3},{"t":4.248,"u":0.5},{"t":4.26,"u":10},{"t":4.278,"u":-8.5},{"t":4.295,"u":0.5},{"t":4.33,"u":1},{"t":4.53,"u":-7},{"t":4.63,"u":3},
{"t":4.84,"u":3},{"t":4.858,"u":0.5},{"t":4.87,"u":10},{"t":4.888,"u":-8.5},{"t":4.905,"u":0.5},{"t":4.94,"u":1},{"t":5.14,"u":-7},{"t":5.24,"u":3},
{"t":5.46,"u":3},{"t":5.478,"u":0.5},{"t":5.49,"u":10},{"t":5.508,"u":-8.5},{"t":5.525,"u":0.5},{"t":5.56,"u":1},{"t":5.76,"u":-7},{"t":5.86,"u":3},
{"t":6.06,"u":3},{"t":6.078,"u":0.5},{"t":6.09,"u":10},{"t":6.108,"u":-8.5},{"t":6.125,"u":0.5},{"t":6.16,"u":1},{"t":6.36,"u":-7},{"t":6.46,"u":3},
{"t":6.67,"u":3},{"t":6.688,"u":0.5},{"t":6.7,"u":10},{"t":6.718,"u":-8.5},{"t":6.735,"u":0.5},{"t":6.77,"u":1},{"t":6.97,"u":-7},{"t":7.07,"u":3},
{"t":7.26,"u":3},{"t":7.278,"u":0.5},{"t":7.29,"u":10},{"t":7.308,"u":-8.5},{"t":7.325,"u":0.5},{"t":7.36,"u":1},{"t":7.56,"u":-7},{"t":7.66,"u":3},
{"t":7.86,"u":3},{"t":7.878,"u":0.5},{"t":7.89,"u":10},{"t":7.908,"u":-8.5},{"t":7.925,"u":0.5},{"t":7.97,"u":1}
]},
"vconcat":[
{"height":32,"transform":[{"filter":"isValid(datum.a)"}],"mark":{"type":"line","color":"#151515"},"encoding":{"x":{"field":"t","type":"quantitative","scale":{"domain":[0,7.974],"nice":false},"axis":{"values":[0,1,2,3,4,5,6,7],"orient":"top","labels":true,"ticks":true,"tickSize":0,"tickOpacity":0,"labelPadding":-0.6,"labelAlign":"left","labelBaseline":"top","labelOffset":1,"labelExpr":"'10:54:' + (52 + datum.value)","labelFont":"Liberation Sans","labelFontSize":10,"labelColor":"#3a3aa6","labelFlush":false,"labelOverlap":false}},"y":{"field":"a","type":"quantitative","scale":{"domain":[-16,16],"nice":false},"axis":{"title":"Fp1-A1"}}}},
{"height":31,"transform":[{"filter":"isValid(datum.b)"}],"mark":{"type":"line","color":"#151515"},"encoding":{"x":{"field":"t","type":"quantitative","scale":{"domain":[0,7.974],"nice":false},"axis":{"values":[0,1,2,3,4,5,6,7]}},"y":{"field":"b","type":"quantitative","scale":{"domain":[-15.5,15.5],"nice":false},"axis":{"title":"F7-A1"}}}},
{"height":32,"transform":[{"filter":"isValid(datum.c)"}],"mark":{"type":"line","color":"#151515"},"encoding":{"x":{"field":"t","type":"quantitative","scale":{"domain":[0,7.974],"nice":false},"axis":{"values":[0,1,2,3,4,5,6,7]}},"y":{"field":"c","type":"quantitative","scale":{"domain":[-16,16],"nice":false},"axis":{"title":"T3-A1"}}}},
{"height":31,"transform":[{"filter":"isValid(datum.d)"}],"mark":{"type":"line","color":"#151515"},"encoding":{"x":{"field":"t","type":"quantitative","scale":{"domain":[0,7.974],"nice":false},"axis":{"values":[0,1,2,3,4,5,6,7]}},"y":{"field":"d","type":"quantitative","scale":{"domain":[-15.5,15.5],"nice":false},"axis":{"title":"T5-A1"}}}},
{"height":32,"transform":[{"filter":"isValid(datum.e)"}],"mark":{"type":"line","color":"#9c3a3a"},"encoding":{"x":{"field":"t","type":"quantitative","scale":{"domain":[0,7.974],"nice":false},"axis":{"values":[0,1,2,3,4,5,6,7]}},"y":{"field":"e","type":"quantitative","scale":{"domain":[-16,16],"nice":false},"axis":{"title":"Fp2-A2"}}}},
{"height":32,"transform":[{"filter":"isValid(datum.f)"}],"mark":{"type":"line","color":"#9c3a3a"},"encoding":{"x":{"field":"t","type":"quantitative","scale":{"domain":[0,7.974],"nice":false},"axis":{"values":[0,1,2,3,4,5,6,7]}},"y":{"field":"f","type":"quantitative","scale":{"domain":[-16,16],"nice":false},"axis":{"title":"F8-A2"}}}},
{"height":32,"transform":[{"filter":"isValid(datum.g)"}],"mark":{"type":"line","color":"#9c3a3a"},"encoding":{"x":{"field":"t","type":"quantitative","scale":{"domain":[0,7.974],"nice":false},"axis":{"values":[0,1,2,3,4,5,6,7]}},"y":{"field":"g","type":"quantitative","scale":{"domain":[-16,16],"nice":false},"axis":{"title":"T4-A2"}}}},
{"height":31,"transform":[{"filter":"isValid(datum.h)"}],"mark":{"type":"line","color":"#9c3a3a"},"encoding":{"x":{"field":"t","type":"quantitative","scale":{"domain":[0,7.974],"nice":false},"axis":{"values":[0,1,2,3,4,5,6,7]}},"y":{"field":"h","type":"quantitative","scale":{"domain":[-15.5,15.5],"nice":false},"axis":{"title":"T6-A2"}}}},
{"height":32,"transform":[{"filter":"isValid(datum.i)"}],"mark":{"type":"line","color":"#151515"},"encoding":{"x":{"field":"t","type":"quantitative","scale":{"domain":[0,7.974],"nice":false},"axis":{"values":[0,1,2,3,4,5,6,7]}},"y":{"field":"i","type":"quantitative","scale":{"domain":[-16,16],"nice":false},"axis":{"title":"F3-A1"}}}},
{"height":32,"transform":[{"filter":"isValid(datum.j)"}],"mark":{"type":"line","color":"#151515"},"encoding":{"x":{"field":"t","type":"quantitative","scale":{"domain":[0,7.974],"nice":false},"axis":{"values":[0,1,2,3,4,5,6,7]}},"y":{"field":"j","type":"quantitative","scale":{"domain":[-16,16],"nice":false},"axis":{"title":"C3-A1"}}}},
{"height":31,"transform":[{"filter":"isValid(datum.k)"}],"mark":{"type":"line","color":"#151515"},"encoding":{"x":{"field":"t","type":"quantitative","scale":{"domain":[0,7.974],"nice":false},"axis":{"values":[0,1,2,3,4,5,6,7]}},"y":{"field":"k","type":"quantitative","scale":{"domain":[-15.5,15.5],"nice":false},"axis":{"title":"P3-A1"}}}},
{"height":32,"transform":[{"filter":"isValid(datum.l)"}],"mark":{"type":"line","color":"#151515"},"encoding":{"x":{"field":"t","type":"quantitative","scale":{"domain":[0,7.974],"nice":false},"axis":{"values":[0,1,2,3,4,5,6,7]}},"y":{"field":"l","type":"quantitative","scale":{"domain":[-16,16],"nice":false},"axis":{"title":"O1-A1"}}}},
{"height":32,"transform":[{"filter":"isValid(datum.m)"}],"mark":{"type":"line","color":"#9c3a3a"},"encoding":{"x":{"field":"t","type":"quantitative","scale":{"domain":[0,7.974],"nice":false},"axis":{"values":[0,1,2,3,4,5,6,7]}},"y":{"field":"m","type":"quantitative","scale":{"domain":[-16,16],"nice":false},"axis":{"title":"F4-A2"}}}},
{"height":31,"transform":[{"filter":"isValid(datum.n)"}],"mark":{"type":"line","color":"#9c3a3a"},"encoding":{"x":{"field":"t","type":"quantitative","scale":{"domain":[0,7.974],"nice":false},"axis":{"values":[0,1,2,3,4,5,6,7]}},"y":{"field":"n","type":"quantitative","scale":{"domain":[-15.5,15.5],"nice":false},"axis":{"title":"C4-A2"}}}},
{"height":32,"transform":[{"filter":"isValid(datum.o)"}],"mark":{"type":"line","color":"#9c3a3a"},"encoding":{"x":{"field":"t","type":"quantitative","scale":{"domain":[0,7.974],"nice":false},"axis":{"values":[0,1,2,3,4,5,6,7]}},"y":{"field":"o","type":"quantitative","scale":{"domain":[-16,16],"nice":false},"axis":{"title":"P4-A2"}}}},
{"height":32,"transform":[{"filter":"isValid(datum.p)"}],"mark":{"type":"line","color":"#9c3a3a"},"encoding":{"x":{"field":"t","type":"quantitative","scale":{"domain":[0,7.974],"nice":false},"axis":{"values":[0,1,2,3,4,5,6,7]}},"y":{"field":"p","type":"quantitative","scale":{"domain":[-16,16],"nice":false},"axis":{"title":"O2-A2"}}}},
{"height":31,"transform":[{"filter":"isValid(datum.q)"}],"mark":{"type":"line","color":"#151515"},"encoding":{"x":{"field":"t","type":"quantitative","scale":{"domain":[0,7.974],"nice":false},"axis":{"values":[0,1,2,3,4,5,6,7]}},"y":{"field":"q","type":"quantitative","scale":{"domain":[-15.5,15.5],"nice":false},"axis":{"title":"Fz-Cz"}}}},
{"height":32,"transform":[{"filter":"isValid(datum.r)"}],"mark":{"type":"line","color":"#151515"},"encoding":{"x":{"field":"t","type":"quantitative","scale":{"domain":[0,7.974],"nice":false},"axis":{"values":[0,1,2,3,4,5,6,7]}},"y":{"field":"r","type":"quantitative","scale":{"domain":[-16,16],"nice":false},"axis":{"title":"Cz-Pz"}}}},
{"height":32,"transform":[{"filter":"isValid(datum.s)"}],"mark":{"type":"line","color":"#151515"},"encoding":{"x":{"field":"t","type":"quantitative","scale":{"domain":[0,7.974],"nice":false},"axis":{"values":[0,1,2,3,4,5,6,7]}},"y":{"field":"s","type":"quantitative","scale":{"domain":[-16,16],"nice":false},"axis":{"title":"F7-Cz"}}}},
{"height":31,"transform":[{"filter":"isValid(datum.t2)"}],"mark":{"type":"line","color":"#9c3a3a"},"encoding":{"x":{"field":"t","type":"quantitative","scale":{"domain":[0,7.974],"nice":false},"axis":{"values":[0,1,2,3,4,5,6,7]}},"y":{"field":"t2","type":"quantitative","scale":{"domain":[-15.5,15.5],"nice":false},"axis":{"title":"F8-Cz"}}}},
{"height":32,"transform":[{"filter":"isValid(datum.u)"}],"mark":{"type":"line","color":"#d8302a"},"encoding":{"x":{"field":"t","type":"quantitative","scale":{"domain":[0,7.974],"nice":false},"axis":{"values":[0,1,2,3,4,5,6,7]}},"y":{"field":"u","type":"quantitative","scale":{"domain":[-16,16],"nice":false},"axis":{"title":"ECG"}}}}
],
"config":{
"view":{"stroke":null,"continuousWidth":1090,"continuousHeight":32},
"font":"Liberation Sans",
"line":{"strokeWidth":1},
"axisX":{"grid":true,"gridColor":"#3f95cc","gridDash":[2,2],"gridWidth":1,"domain":false,"ticks":false,"labels":false,"title":null},
"axisY":{"labels":false,"ticks":false,"domain":false,"grid":false,"titleAngle":0,"titleAlign":"left","titleBaseline":"middle","titleX":-76,"titleY":16,"titleFont":"Liberation Sans","titleFontSize":10,"titleFontWeight":"normal","titleColor":"#3535a5","titlePadding":0}
}
}
